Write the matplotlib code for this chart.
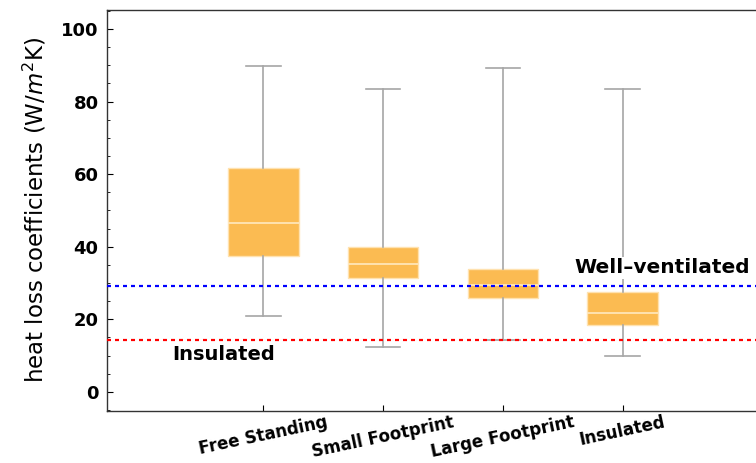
import matplotlib.pyplot as plt

plt.rcParams['font.family'] = ['DejaVu Sans']

categories = ["Free Standing", "Small Footprint", "Large Footprint", "Insulated"]
whisker_low = [20.8, 12.3, 14.4, 10.0]
q1 = [37.5, 31.4, 25.8, 18.4]
median = [46.5, 35.3, 29.4, 21.8]
q3 = [61.6, 39.8, 33.9, 27.6]
whisker_high = [89.8, 83.6, 89.2, 83.5]

well_ventilated = 29.1
insulated = 14.4

box_color = "#FBBB52"
whisker_color = "#A6A6A6"

stats = [
    {"whislo": lo, "q1": a, "med": m, "q3": b, "whishi": hi, "label": name}
    for name, lo, a, m, b, hi in zip(categories, whisker_low, q1, median, q3, whisker_high)
]

fig = plt.figure(figsize=(7.56, 4.63), dpi=100)
# axes run a little past the right edge, so no right spine shows
ax = fig.add_axes([107 / 756, 52 / 463, 672 / 756, 401.5 / 463])

positions = list(range(1, len(categories) + 1))
ax.bxp(
    stats, positions=positions, widths=0.59, showfliers=False, patch_artist=True,
    boxprops=dict(facecolor=box_color, edgecolor="#FFE2B0", linewidth=1.0),
    medianprops=dict(color="#FFE9C0", linewidth=1.2),
    whiskerprops=dict(color=whisker_color, linewidth=1.2),
    capprops=dict(color=whisker_color, linewidth=1.2),
    capwidths=0.29, zorder=2,
)

ax.axhline(well_ventilated, color="#0000FF", linestyle=(0, (1.8, 1.8)), linewidth=1.6, zorder=3)
ax.axhline(insulated, color="#FF0000", linestyle=(0, (1.8, 1.8)), linewidth=1.6, zorder=3)

ax.text(3.596, 34.2, "Well\u2013ventilated", fontsize=14.5, fontweight="bold", va="center", ha="left",
        bbox=dict(facecolor="white", edgecolor="none", pad=1.0), zorder=4)
ax.text(0.237, 10.4, "Insulated", fontsize=14, fontweight="bold", va="center", ha="left", zorder=4)

ax.set_xlim(-0.306, 5.306)
ax.set_ylim(-5.3, 105.4)
ax.set_yticks([0, 20, 40, 60, 80, 100])
ax.set_yticks(range(-5, 106, 5), minor=True)
ax.set_xticks(positions)
ax.set_xticklabels(categories, rotation=12, ha="center", fontsize=12, fontweight="bold")
for lab in ax.get_yticklabels():
    lab.set_fontsize(13)
    lab.set_fontweight("bold")

ax.tick_params(axis="both", direction="in", length=4, width=0.8, pad=6)
ax.tick_params(axis="x", pad=1.5)
ax.tick_params(axis="y", which="minor", direction="in", length=2, width=0.6)
ax.tick_params(axis="x", which="minor", length=0)

ax.set_ylabel("heat loss coefficients (W/$m^2$K)", fontsize=16.5, labelpad=9)

for spine in ax.spines.values():
    spine.set_color("#333333")
    spine.set_linewidth(1.0)

fig.savefig("out.png", dpi=100)
